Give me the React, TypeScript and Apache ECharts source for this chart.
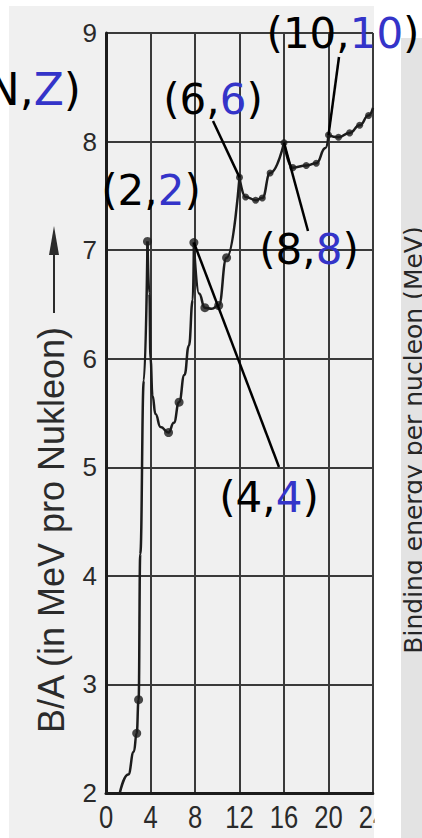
import React, { useEffect, useRef } from "react";
import * as echarts from "echarts";

const WIDTH = 422;
const HEIGHT = 838;

// Axis ranges: mass number A and binding energy per nucleon B/A (MeV)
const massRange: [number, number] = [0, 24];
const massStep = 4;
const massTickLabels = [0, 4, 8, 12, 16, 20, 24];
const energyRange: [number, number] = [2, 9];
const energyStep = 1;

// Nuclides marked with dots: [A, B/A]
const nuclideDots: [number, number][] = [
  [2.76, 2.55], [2.93, 2.86], [3.73, 7.08], [5.62, 5.32], [6.57, 5.6],
  [7.9, 7.07], [8.89, 6.47], [10.13, 6.49], [10.84, 6.93], [12, 7.67],
  [12.55, 7.49], [13.45, 7.46], [14.05, 7.48], [14.75, 7.71], [16, 7.99],
  [16.8, 7.76], [18, 7.78], [18.9, 7.8], [20, 8.06], [20.9, 8.04],
  [21.9, 8.08], [22.8, 8.15], [23.6, 8.24],
];

// Hand-drawn curve, split at the cusps of the even-even nuclei
const riseToHe4: [number, number][] = [
  [1.24, 2.0], [2.0, 2.17], [2.5, 2.38], [2.76, 2.55],
  [2.93, 2.86], [3.08, 4.2], [3.4, 5.8], [3.73, 7.08],
];
const he4ToBe8: [number, number][] = [
  [3.73, 7.08], [3.9, 6.6], [4.0, 6.0], [4.18, 5.66], [4.45, 5.49],
  [4.9, 5.37], [5.62, 5.32], [6.1, 5.41], [6.57, 5.6],
  [7.05, 5.85], [7.45, 6.12], [7.8, 6.54], [7.9, 7.07],
];
const be8ToC12: [number, number][] = [
  [7.9, 7.07], [8.36, 6.6], [8.89, 6.47], [9.5, 6.46], [10.13, 6.49],
  [10.84, 6.93], [12, 7.67],
];
const c12ToO16: [number, number][] = [
  [12, 7.67], [12.55, 7.49], [13.45, 7.46], [14.05, 7.48], [14.75, 7.71], [16, 7.99],
];
const o16ToNe20: [number, number][] = [
  [16, 7.99], [16.8, 7.76], [18, 7.78], [18.9, 7.8], [19.73, 7.94], [20, 8.06],
];
const ne20Onward: [number, number][] = [
  [20, 8.06], [20.9, 8.04], [21.9, 8.08], [22.8, 8.15], [23.6, 8.24], [24, 8.31],
];
const curveSegments = [riseToHe4, he4ToBe8, be8ToC12, c12ToO16, o16ToNe20, ne20Onward];

// (N,Z) callouts and the nuclide each one points at
const calloutN = ["N", "2", "4", "6", "8", "10"];
const calloutZ = ["Z", "2", "4", "6", "8", "10"];
const calloutTarget: ([number, number] | null)[] = [
  null, null, [7.9, 7.07], [12, 7.67], [16, 7.99], [20, 8.06],
];

const axisTitle = "B/A (in MeV pro Nukleon)";
const panelTitle = "Binding energy per nucleon (MeV)";

// Pixel layout of the callouts: text anchor and the free end of each leader line
const calloutLayout: { x: number; y: number; align: string; size: number; lineEnd?: [number, number] }[] = [
  { x: 81, y: 89, align: "right", size: 44 },
  { x: 151, y: 190, align: "center", size: 42 },
  { x: 269, y: 497, align: "center", size: 42, lineEnd: [279, 467] },
  { x: 213, y: 99, align: "center", size: 42, lineEnd: [213, 121] },
  { x: 309, y: 249, align: "center", size: 42, lineEnd: [308, 231] },
  { x: 343, y: 33, align: "center", size: 42, lineEnd: [339, 57] },
];

const INK = "#1c1c1c";
const GRID_INK = "#3a3a3a";
const BLUE = "#3434c9";
const SANS = '"DejaVu Sans", Verdana, sans-serif';

export default function App() {
  const ref = useRef<HTMLDivElement>(null);

  useEffect(() => {
    if (!ref.current) return;
    const chart = echarts.init(ref.current, null, { renderer: "svg" });

    chart.setOption({
      animation: false,
      backgroundColor: "#ffffff",
      grid: { left: 106, right: WIDTH - 373, top: 33, bottom: HEIGHT - 793, containLabel: false },
      xAxis: {
        type: "value",
        min: massRange[0],
        max: massRange[1],
        interval: massStep,
        axisLine: { show: true, onZero: false, lineStyle: { color: INK, width: 3 } },
        axisTick: { show: false },
        splitLine: { show: true, lineStyle: { color: GRID_INK, width: 2 } },
        // tick labels are drawn below as condensed graphic texts
        axisLabel: { show: false },
      },
      yAxis: {
        type: "value",
        min: energyRange[0],
        max: energyRange[1],
        interval: energyStep,
        axisLine: { show: true, onZero: false, lineStyle: { color: INK, width: 3 } },
        axisTick: { show: false },
        splitLine: { show: true, lineStyle: { color: GRID_INK, width: 2 } },
        axisLabel: {
          color: "#2a2a2a",
          fontSize: 26,
          fontFamily: '"Liberation Sans", sans-serif',
          margin: 9,
          showMinLabel: true,
          showMaxLabel: true,
        },
      },
      series: [
        ...curveSegments.map((seg) => ({
          type: "line",
          data: seg,
          smooth: 0.5,
          smoothMonotone: "x",
          showSymbol: false,
          symbol: "none",
          lineStyle: { color: INK, width: 2.5 },
          z: 3,
          silent: true,
        })),
        {
          type: "scatter",
          data: nuclideDots,
          symbol: "circle",
          symbolSize: (v: number[]) => (v[0] < 11.5 ? 9 : 7),
          itemStyle: { color: INK },
          z: 4,
          silent: true,
        },
      ],
    });

    const toPx = (p: [number, number]) =>
      chart.convertToPixel({ gridIndex: 0 }, p) as number[];

    const graphics: any[] = [
      // scanned sheet background
      { type: "rect", z: -1, shape: { x: 9, y: 6, width: 365, height: HEIGHT - 6 }, style: { fill: "#f0f0f0" } },
    ];

    // condensed x tick labels placed through the axis scale
    massTickLabels.forEach((a) => {
      const p = toPx([a, energyRange[0]]);
      graphics.push({
        type: "text",
        z: 10,
        x: p[0],
        y: p[1] + 24,
        scaleX: 0.8,
        style: {
          text: String(a),
          font: '32px "Liberation Sans", sans-serif',
          fill: "#2a2a2a",
          align: "center",
          verticalAlign: "middle",
          textAlign: "center",
          textVerticalAlign: "middle",
        },
      });
    });

    graphics.push(
      // white gap on the right hides the clipped part of the axis
      { type: "rect", z: 50, shape: { x: 374.5, y: 0, width: 26.5, height: HEIGHT }, style: { fill: "#ffffff" } },
      // grey side panel with its caption
      { type: "rect", z: 51, shape: { x: 401, y: 38, width: 21, height: HEIGHT - 38 }, style: { fill: "#e3e3e3" } },
      {
        type: "text",
        z: 52,
        x: 413,
        y: 440,
        rotation: Math.PI / 2,
        style: {
          text: panelTitle,
          font: `25px ${SANS}`,
          fill: "#262626",
          align: "center",
          verticalAlign: "middle",
          textAlign: "center",
          textVerticalAlign: "middle",
        },
      },
      // y axis title with its arrow
      {
        type: "text",
        z: 20,
        x: 51,
        y: 530,
        rotation: Math.PI / 2,
        style: {
          text: axisTitle,
          font: '36px "Liberation Sans", sans-serif',
          fill: "#2b2b2b",
          align: "center",
          verticalAlign: "middle",
          textAlign: "center",
          textVerticalAlign: "middle",
        },
      },
      { type: "line", z: 20, shape: { x1: 54, y1: 313, x2: 54, y2: 248 }, style: { stroke: "#2b2b2b", lineWidth: 2 } },
      { type: "polygon", z: 20, shape: { points: [[54, 226], [49, 255], [59, 255]] }, style: { fill: "#2b2b2b" } }
    );

    calloutN.forEach((n, i) => {
      const lay = calloutLayout[i];
      const target = calloutTarget[i];
      if (target && lay.lineEnd) {
        const p = toPx(target);
        graphics.push({
          type: "line",
          z: 60,
          shape: { x1: p[0], y1: p[1], x2: lay.lineEnd[0], y2: lay.lineEnd[1] },
          style: { stroke: "#000000", lineWidth: 2.5 },
        });
      }
      graphics.push({
        type: "text",
        z: 61,
        x: lay.x,
        y: lay.y,
        style: {
          text: `{k|(${n},}{b|${calloutZ[i]}}{k|)}`,
          font: `${lay.size}px ${SANS}`,
          align: lay.align,
          verticalAlign: "middle",
          textAlign: lay.align,
          textVerticalAlign: "middle",
          rich: {
            k: { fill: "#000000", font: `${lay.size}px ${SANS}` },
            b: { fill: BLUE, font: `${lay.size}px ${SANS}` },
          },
        },
      });
    });

    chart.setOption({ graphic: graphics });

    return () => chart.dispose();
  }, []);

  return (
    <div
      ref={ref}
      style={{ position: "fixed", left: 0, top: 0, width: WIDTH, height: HEIGHT }}
    />
  );
}
